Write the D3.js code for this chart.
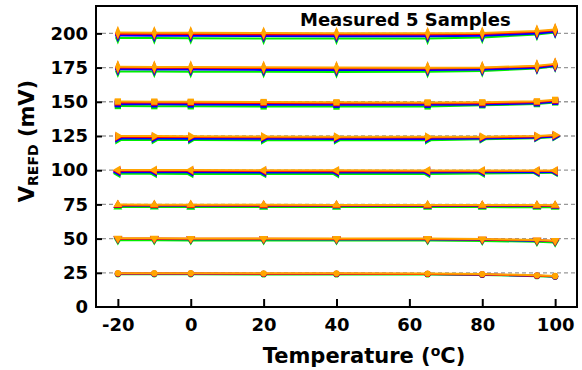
<!DOCTYPE html>
<html lang="en">
  <head>
    <meta charset="utf-8">
    <title>VREFD vs temperature</title>
    <style>
     body { margin: 0; background: #fff; }
     svg text { font-family: "DejaVu Sans", Verdana, sans-serif; font-weight: bold; fill: #000; }
    </style>
  </head>
  <body>
    <div id="plot"></div>
  </body>
  <script src="https://d3js.org/d3.v7.min.js"></script>
  <script>
   // temperatures where each sample was measured
   var temps = [-20, -10, 0, 20, 40, 65, 80, 95, 100];
   var xTicks = [-20, 0, 20, 40, 60, 80, 100];
   var yTicks = [0, 25, 50, 75, 100, 125, 150, 175, 200];
   var levels = [25, 50, 75, 100, 125, 150, 175, 200];
   // drawing order: bottom to top
   var sampleNames = ["S5", "S4", "S3", "S2", "S1"];
   var sampleColors = ["#00ee00", "#9400d3", "#0000ff", "#ff0000", "#ffa500"];
   var levelMarkers = ["circle", "down", "up", "left", "right", "square", "diamond", "diamond"];

   // measured values, one row per sample (same order as sampleNames)
   var v200 = [[196.7, 196.6, 196.5, 196.3, 196.2, 196.3, 196.9, 199.2, 200.7],
               [198.9, 198.8, 198.7, 198.5, 198.4, 198.4, 198.7, 200.3, 201.5],
               [198.4, 198.3, 198.2, 198.0, 197.9, 197.9, 198.3, 199.9, 201.2],
               [199.8, 199.7, 199.6, 199.4, 199.3, 199.3, 199.6, 201.1, 202.3],
               [200.6, 200.5, 200.4, 200.2, 200.0, 200.0, 200.3, 201.7, 202.9]];
   var v175 = [[172.2, 172.1, 172.0, 171.9, 171.8, 171.9, 172.5, 174.4, 176.0],
               [174.1, 174.0, 173.9, 173.7, 173.6, 173.5, 173.8, 175.2, 176.7],
               [173.7, 173.6, 173.5, 173.3, 173.2, 173.2, 173.5, 174.9, 176.4],
               [175.0, 174.9, 174.8, 174.6, 174.5, 174.4, 174.6, 175.8, 177.2],
               [175.6, 175.5, 175.4, 175.2, 175.0, 174.9, 175.1, 176.3, 177.7]];
   var v150 = [[146.9, 146.8, 146.7, 146.6, 146.5, 146.6, 147.4, 148.3, 149.5],
               [148.7, 148.6, 148.5, 148.3, 148.2, 148.1, 148.3, 149.2, 150.3],
               [148.2, 148.1, 148.0, 147.9, 147.8, 147.8, 148.0, 148.9, 150.0],
               [149.5, 149.4, 149.3, 149.1, 149.0, 148.9, 149.0, 149.8, 150.9],
               [150.2, 150.1, 150.0, 149.8, 149.6, 149.5, 149.6, 150.3, 151.4]];
   var v125 = [[122.1, 122.0, 122.0, 121.9, 121.8, 121.9, 122.6, 123.4, 124.2],
               [123.7, 123.6, 123.5, 123.4, 123.3, 123.3, 123.5, 124.1, 124.9],
               [123.2, 123.1, 123.0, 122.9, 122.8, 122.8, 123.1, 123.8, 124.6],
               [124.4, 124.3, 124.2, 124.0, 123.9, 123.9, 124.0, 124.6, 125.4],
               [125.0, 124.9, 124.8, 124.6, 124.5, 124.4, 124.5, 125.0, 125.8]];
   var v100 = [[97.4, 97.4, 97.3, 97.3, 97.2, 97.3, 97.6, 97.9, 98.1],
               [98.9, 98.8, 98.8, 98.7, 98.7, 98.7, 98.7, 98.8, 98.9],
               [98.5, 98.4, 98.4, 98.3, 98.3, 98.3, 98.4, 98.5, 98.6],
               [99.6, 99.5, 99.5, 99.4, 99.3, 99.3, 99.3, 99.4, 99.4],
               [100.2, 100.1, 100.1, 100.0, 99.9, 99.8, 99.8, 99.8, 99.8]];
   var v75 = [[73.1, 73.1, 73.0, 73.0, 73.0, 73.0, 73.0, 72.9, 72.9],
              [74.3, 74.2, 74.2, 74.1, 74.1, 74.0, 74.0, 74.0, 73.9],
              [74.2, 74.1, 74.1, 74.0, 74.0, 73.9, 73.9, 73.9, 73.8],
              [74.4, 74.3, 74.3, 74.2, 74.2, 74.1, 74.1, 74.1, 74.0],
              [74.9, 74.8, 74.8, 74.7, 74.6, 74.6, 74.5, 74.5, 74.4]];
   var v50 = [[48.7, 48.7, 48.6, 48.6, 48.6, 48.6, 48.3, 47.6, 47.1],
              [49.8, 49.8, 49.7, 49.7, 49.6, 49.6, 49.3, 48.6, 48.1],
              [49.7, 49.7, 49.6, 49.6, 49.5, 49.5, 49.2, 48.5, 48.0],
              [49.9, 49.9, 49.8, 49.8, 49.7, 49.7, 49.4, 48.7, 48.2],
              [50.2, 50.2, 50.1, 50.1, 50.0, 50.0, 49.7, 49.0, 48.5]];
   var v25 = [[23.9, 23.9, 23.9, 23.8, 23.8, 23.8, 23.4, 22.5, 22.1],
              [24.4, 24.4, 24.4, 24.3, 24.3, 24.2, 23.8, 22.9, 22.4],
              [24.3, 24.3, 24.3, 24.2, 24.2, 24.1, 23.7, 22.8, 22.3],
              [24.4, 24.4, 24.4, 24.3, 24.3, 24.2, 23.8, 22.9, 22.4],
              [24.7, 24.7, 24.7, 24.6, 24.6, 24.5, 24.1, 23.2, 22.7]];
   var levelData = [v25, v50, v75, v100, v125, v150, v175, v200];

   var width = 582, height = 370,
       margin = {top: 6, right: 5, bottom: 63, left: 96};

   var svg = d3.select("#plot").append("svg")
               .attr("width", width)
               .attr("height", height);

   var xscale = d3.scaleLinear().domain([-26, 106]).range([margin.left, width - margin.right]);
   var yscale = d3.scaleLinear().domain([0, 220]).range([height - margin.bottom, margin.top]);

   // dashed guide lines at each set level
   svg.append("g").selectAll("line")
      .data(levels)
      .join("line")
      .attr("x1", xscale.range()[0] + 6)
      .attr("x2", xscale.range()[1])
      .attr("y1", d => yscale(d))
      .attr("y2", d => yscale(d))
      .attr("stroke", "#999")
      .attr("stroke-width", 1.3)
      .attr("stroke-dasharray", "4,3");

   var line = d3.line()
                .x((d, i) => xscale(temps[i]))
                .y(d => yscale(d));

   var markerPath = function(kind) {
     if (kind === "circle") return {p: d3.symbol(d3.symbolCircle, 30)(), t: ""};
     if (kind === "square") return {p: d3.symbol(d3.symbolSquare, 40)(), t: ""};
     if (kind === "diamond") return {p: d3.symbol(d3.symbolDiamond, 52)(), t: " scale(0.7,1)"};
     var rot = {up: 0, down: 180, right: 90, left: -90}[kind];
     return {p: d3.symbol(d3.symbolTriangle, 34)(), t: " rotate(" + rot + ")"};
   };

   levelData.forEach(function(samples, li) {
     var mk = markerPath(levelMarkers[li]);
     var g = svg.append("g").attr("class", "level");
     samples.forEach(function(vals, si) {
       var col = sampleColors[si];
       g.append("path")
        .attr("d", line(vals))
        .attr("fill", "none")
        .attr("stroke", col)
        .attr("stroke-width", 2);
       g.append("g").selectAll("path")
        .data(vals)
        .join("path")
        .attr("d", mk.p)
        .attr("transform", (d, i) => "translate(" + xscale(temps[i]) + "," + yscale(d) + ")" + mk.t)
        .attr("fill", col);
     });
   });

   // axes (inward ticks), plain hyphen for negatives
   var xAxis = svg.append("g")
                  .attr("transform", "translate(0," + yscale.range()[0] + ")")
                  .call(d3.axisBottom(xscale).tickValues(xTicks).tickFormat(d => String(d))
                          .tickSize(-8).tickPadding(11).tickSizeOuter(0));
   var yAxis = svg.append("g")
                  .attr("transform", "translate(" + xscale.range()[0] + ",0)")
                  .call(d3.axisLeft(yscale).tickValues(yTicks).tickFormat(d => String(d))
                          .tickSize(-6).tickPadding(8).tickSizeOuter(0));
   [xAxis, yAxis].forEach(function(a) {
     a.select(".domain").remove();
     a.selectAll("line").attr("stroke", "#000").attr("stroke-width", 2);
     a.selectAll("text").attr("font-size", 18).attr("font-family", null);
   });
   yAxis.selectAll(".tick").filter(d => d === 0).select("line").remove();

   // frame
   svg.append("rect")
      .attr("x", xscale.range()[0])
      .attr("y", yscale.range()[1])
      .attr("width", xscale.range()[1] - xscale.range()[0])
      .attr("height", yscale.range()[0] - yscale.range()[1])
      .attr("fill", "none")
      .attr("stroke", "#000")
      .attr("stroke-width", 2);

   svg.append("text")
      .attr("x", 300)
      .attr("y", 26)
      .attr("font-size", 18)
      .text("Measured 5 Samples");

   var xt = svg.append("text")
               .attr("x", 364)
               .attr("y", 363)
               .attr("text-anchor", "middle")
               .attr("font-size", 21);
   xt.append("tspan").text("Temperature (");
   xt.append("tspan").attr("font-size", 14).attr("dy", -7).text("o");
   xt.append("tspan").attr("dy", 7).text("C)");

   var yt = svg.append("text")
               .attr("transform", "translate(34,141) rotate(-90)")
               .attr("text-anchor", "middle")
               .attr("font-size", 21);
   yt.append("tspan").text("V");
   yt.append("tspan").attr("font-size", 14).attr("dy", 4).text("REFD");
   yt.append("tspan").attr("dy", -4).text(" (mV)");
  </script>
</html>
